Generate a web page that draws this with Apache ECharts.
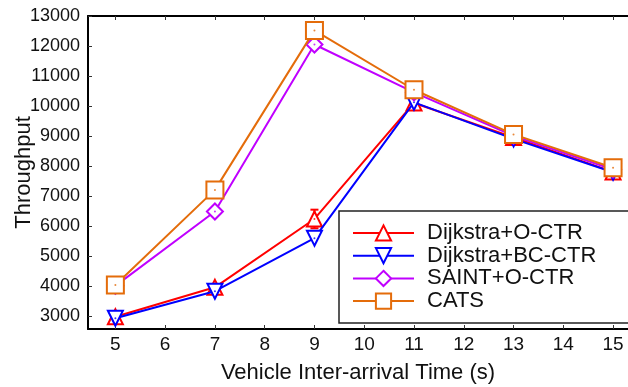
<!DOCTYPE html>
<html>
<head>
<meta charset="utf-8">
<script src="https://cdn.jsdelivr.net/npm/echarts@6/dist/echarts.min.js"></script>
<style>
html,body{margin:0;padding:0;background:#fff;}
#chart{width:628px;height:387px;}
</style>
</head>
<body>
<div id="chart"></div>
<script>
const xValues = [5, 7, 9, 11, 13, 15];
const dijkstraOCTR = [2970, 3950, 6230, 10100, 8950, 7800];
const dijkstraOCTRErr = [0, 0, 310, 0, 0, 0];
const dijkstraBCCTR = [2920, 3820, 5590, 10120, 8900, 7790];
const saintOCTR = [4000, 6480, 12050, 10450, 9000, 7880];
const cats = [4030, 7200, 12520, 10540, 9050, 7940];
const xTicks = [5, 6, 7, 8, 9, 10, 11, 12, 13, 14, 15];
const yTicks = [3000, 4000, 5000, 6000, 7000, 8000, 9000, 10000, 11000, 12000, 13000];
const seriesNames = ['Dijkstra+O-CTR', 'Dijkstra+BC-CTR', 'SAINT+O-CTR', 'CATS'];

const colors = ['#ff0000', '#0000ff', '#c000ff', '#e46c0a'];
const symbols = ['triangle', 'triangle', 'diamond', 'rect'];
const rotates = [0, 180, 0, 0];
const sizes = [15, 15, [16, 16], 17];
const allData = [dijkstraOCTR, dijkstraBCCTR, saintOCTR, cats];

const font = 'Liberation Sans, Arial, Helvetica, sans-serif';

const series = [];
series.push({
  name: 'err',
  type: 'custom',
  data: xValues.map((x, j) => [x, dijkstraOCTR[j] - dijkstraOCTRErr[j], dijkstraOCTR[j] + dijkstraOCTRErr[j]]).filter((d, j) => dijkstraOCTRErr[j] > 0),
  renderItem: function (params, api) {
    const lo = api.coord([api.value(0), api.value(1)]);
    const hi = api.coord([api.value(0), api.value(2)]);
    const w = 4;
    return {
      type: 'group',
      children: [
        { type: 'line', shape: { x1: hi[0], y1: hi[1], x2: lo[0], y2: lo[1] }, style: { stroke: colors[0], lineWidth: 2 } },
        { type: 'line', shape: { x1: hi[0] - w, y1: hi[1], x2: hi[0] + w, y2: hi[1] }, style: { stroke: colors[0], lineWidth: 2 } },
        { type: 'line', shape: { x1: lo[0] - w, y1: lo[1], x2: lo[0] + w, y2: lo[1] }, style: { stroke: colors[0], lineWidth: 2 } }
      ]
    };
  },
  z: 1,
  silent: true,
  animation: false
});
allData.forEach((vals, i) => {
  series.push({
    name: seriesNames[i],
    type: 'line',
    data: xValues.map((x, j) => [x, vals[j]]),
    symbol: symbols[i],
    symbolRotate: rotates[i],
    symbolSize: sizes[i],
    showAllSymbol: true,
    lineStyle: { color: colors[i], width: 2 },
    itemStyle: { color: '#ffffff', borderColor: colors[i], borderWidth: 2 },
    z: 2 + i,
    animation: false
  });
  series.push({
    name: seriesNames[i] + '_dot',
    type: 'scatter',
    data: xValues.map((x, j) => [x, vals[j]]),
    symbol: 'circle',
    symbolSize: 2,
    itemStyle: { color: colors[i] },
    z: 2 + i,
    silent: true,
    animation: false
  });
});

const chart = echarts.init(document.getElementById('chart'), null, { renderer: 'canvas' });
chart.setOption({
  animation: false,
  backgroundColor: '#ffffff',
  grid: { left: 88, right: 0, top: 16, bottom: 58, containLabel: false, outerBoundsMode: 'none' },
  legend: {
    data: seriesNames,
    orient: 'vertical',
    left: 339,
    top: 211,
    padding: [11, 40, 11, 13],
    itemWidth: 61,
    itemHeight: 19,
    itemGap: 0.7,
    borderColor: '#222',
    borderWidth: 1.5,
    backgroundColor: '#ffffff',
    textStyle: { fontFamily: font, fontSize: 22, color: '#111', lineHeight: 22, padding: [0, 0, 0, 8] }
  },
  xAxis: [{
    type: 'value',
    min: 4.45,
    max: 15.3,
    name: 'Vehicle Inter-arrival Time (s)',
    nameLocation: 'middle',
    nameGap: 33,
    nameMoveOverlap: false,
    nameTextStyle: { fontFamily: font, fontSize: 22, color: '#111' },
    axisLine: { show: true, lineStyle: { color: '#000', width: 2 } },
    axisTick: { show: true, inside: true, length: 4, customValues: xTicks, lineStyle: { color: '#333', width: 1 } },
    axisLabel: { show: true, customValues: xTicks, margin: 6, fontFamily: font, fontSize: 19, color: '#111' },
    splitLine: { show: false }
  }, {
    type: 'value',
    position: 'top',
    min: 4.45,
    max: 15.3,
    axisLine: { show: true, lineStyle: { color: '#000', width: 2 } },
    axisTick: { show: true, inside: true, length: 4, customValues: xTicks, lineStyle: { color: '#333', width: 1 } },
    axisLabel: { show: false },
    splitLine: { show: false }
  }],
  yAxis: {
    type: 'value',
    min: 2560,
    max: 13000,
    name: 'Throughput',
    nameLocation: 'middle',
    nameGap: 53,
    nameMoveOverlap: false,
    nameTextStyle: { fontFamily: font, fontSize: 22, color: '#111' },
    axisLine: { show: true, lineStyle: { color: '#000', width: 2 } },
    axisTick: { show: true, inside: true, length: 4, customValues: yTicks, lineStyle: { color: '#333', width: 1 } },
    axisLabel: { show: true, customValues: yTicks, margin: 8, fontFamily: font, fontSize: 18, color: '#111', formatter: function (v) { return String(v); } },
    splitLine: { show: false }
  },
  series: series
});
</script>
</body>
</html>
